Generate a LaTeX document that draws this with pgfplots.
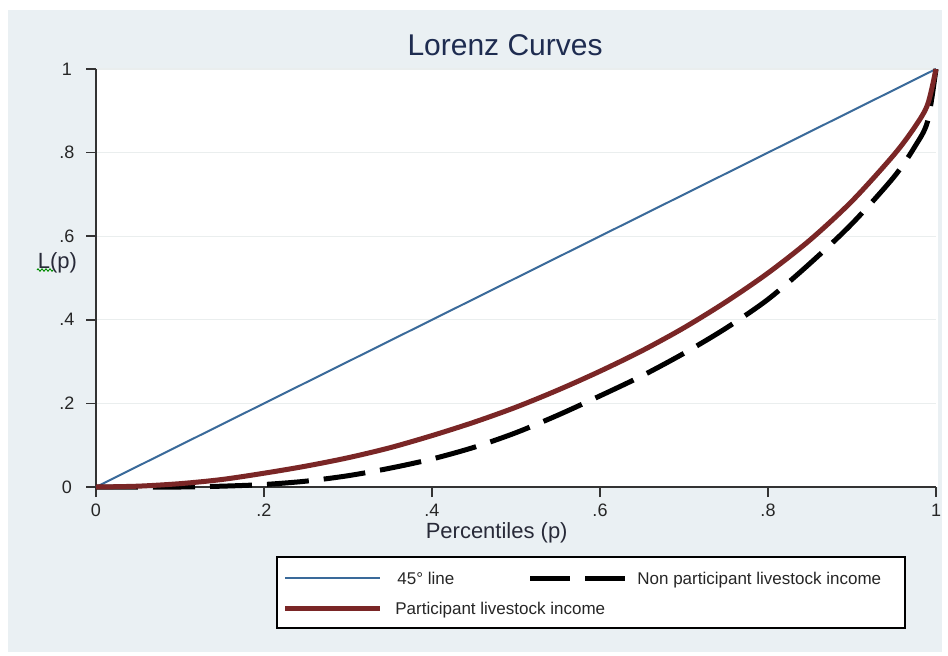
\documentclass[border=0pt]{standalone}
\usepackage{fontspec}
\setmainfont{Liberation Sans}
\usepackage{pgfplots}
\usepackage{pgfplotstable}
\pgfplotsset{compat=1.18}
\usetikzlibrary{decorations.pathmorphing}

\definecolor{bgpanel}{RGB}{234,240,243}
\definecolor{lineblue}{RGB}{58,106,154}
\definecolor{lzmaroon}{RGB}{122,38,38}
\definecolor{titlenavy}{RGB}{30,44,80}
\definecolor{gridc}{RGB}{234,238,238}
\definecolor{labelc}{RGB}{40,42,56}

% Lorenz curve ordinates, cumulative population share p vs. income share L(p)
\pgfplotstableread{
p L
0 0
1 1
}\equality

\pgfplotstableread{
p L
0 0
0.1 0
0.15 0.002
0.2 0.006
0.25 0.014
0.3 0.027
0.35 0.045
0.4 0.067
0.45 0.095
0.5 0.13
0.55 0.172
0.6 0.218
0.65 0.266
0.7 0.32
0.75 0.38
0.8 0.449
0.85 0.535
0.9 0.63
0.95 0.742
0.975 0.815
0.99 0.875
1 1
}\nonparticipant

\pgfplotstableread{
p L
0 0
0.05 0.002
0.1 0.008
0.15 0.018
0.2 0.033
0.25 0.05
0.3 0.07
0.35 0.094
0.4 0.123
0.45 0.155
0.5 0.191
0.55 0.232
0.6 0.277
0.65 0.326
0.7 0.381
0.75 0.443
0.8 0.512
0.85 0.591
0.9 0.684
0.95 0.795
0.975 0.862
0.99 0.915
1 1
}\participant

\begin{document}
\begin{tikzpicture}
% page and graph region
\fill[white] (-48pt,-84pt) rectangle (426pt,243.5pt);
\fill[bgpanel] (-44pt,-82.5pt) rectangle (423pt,238.5pt);
\fill[white] (0pt,0pt) rectangle (421pt,209pt);

\begin{axis}[
  at={(0pt,0pt)}, anchor=south west,
  scale only axis, width=420pt, height=209pt,
  xmin=0, xmax=1, ymin=0, ymax=1,
  clip=false,
  axis x line*=bottom, axis y line*=left,
  axis line style={draw=black!80, line width=0.75pt},
  tick align=outside, major tick length=5pt,
  tick style={draw=black!80, line width=0.75pt},
  xtick={0,0.2,0.4,0.6,0.8,1},
  xticklabels={0,.2,.4,.6,.8,1},
  ytick={0,0.2,0.4,0.6,0.8,1},
  yticklabels={0,.2,.4,.6,.8,1},
  ymajorgrids, grid style={draw=gridc, line width=0.6pt},
  /pgf/number format/assume math mode=true,
  ticklabel style={font=\fontsize{9}{10}\selectfont, text=black!85},
  yticklabel style={text width=12pt, align=center},
  title={Lorenz Curves},
  title style={font=\fontsize{15}{18}\selectfont, text=titlenavy,
    at={(axis description cs:0.487,1)}, anchor=center, yshift=6pt},
  xlabel={Percentiles (p)},
  xlabel style={font=\fontsize{11}{13}\selectfont, text=labelc,
    at={(axis description cs:0.477,-0.11)}, anchor=center},
  ylabel={L(p)},
  ylabel style={font=\fontsize{11}{13}\selectfont, text=labelc,
    at={(axis description cs:-0.046,0.536)}, anchor=center, rotate=-90},
]
\addplot[lineblue, line width=1pt] table[x=p, y=L] {\equality};
\addplot[black, line width=2.5pt, dash pattern=on 21pt off 7.5pt, smooth, tension=0.5] table[x=p, y=L] {\nonparticipant};
\addplot[lzmaroon, line width=2.5pt, smooth, tension=0.5] table[x=p, y=L] {\participant};
\end{axis}

% spell-check squiggle under the y label
\draw[green!55!black, line width=0.45pt,
  decorate, decoration={zigzag, amplitude=0.6pt, segment length=2pt}]
  (-29.5pt,108.5pt) -- (-21.5pt,108.5pt);

% legend
\draw[black, line width=0.6pt, fill=white] (90.5pt,-35pt) rectangle (404.5pt,-70.5pt);
\begin{scope}[font=\fontsize{8.5}{10}\selectfont, text=black!85]
  \draw[lineblue, line width=1pt] (94.5pt,-45.5pt) -- (142pt,-45.5pt);
  \node[anchor=base west, inner sep=0pt] at (150.5pt,-48.5pt) {45° line};
  \draw[black, line width=2.5pt, dash pattern=on 20pt off 7.5pt] (217pt,-45.5pt) -- (264.5pt,-45.5pt);
  \node[anchor=base west, inner sep=0pt] at (270.5pt,-48.5pt) {Non participant livestock income};
  \draw[lzmaroon, line width=2.5pt] (94.5pt,-60.5pt) -- (142pt,-60.5pt);
  \node[anchor=base west, inner sep=0pt] at (149.5pt,-63.5pt) {Participant livestock income};
\end{scope}
\end{tikzpicture}
\end{document}
